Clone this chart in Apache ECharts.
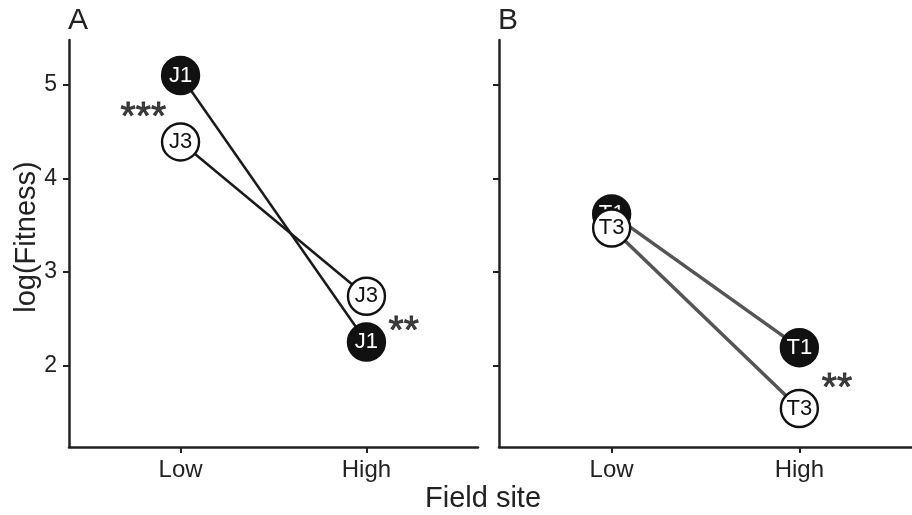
<!DOCTYPE html>
<html>
<head>
<meta charset="utf-8">
<script src="https://cdn.jsdelivr.net/npm/echarts@6/dist/echarts.min.js"></script>
<style>html,body{margin:0;padding:0;background:#fff;}#c{width:912px;height:515px;}</style>
</head>
<body>
<div id="c"></div>
<script>
// Sites: 1 = Low, 2 = High
const siteLabels = {1: 'Low', 2: 'High'};
const siteValues = [1, 2];
const yTicks = [2, 3, 4, 5];
// Panel A
const J1 = [5.1, 2.25];
const J3 = [4.39, 2.74];
// Panel B
const T1 = [3.62, 2.19];
const T3 = [3.47, 1.54];
// Significance stars [x, y, text]
const starsA = [[0.80, 4.73, '***'], [2.2, 2.44, '**']];
const starsB = [[2.2, 1.83, '**']];

const FONT = 'Liberation Sans, Arial, Helvetica, sans-serif';
const INK = '#222';

function pts(vals) { return siteValues.map((s, i) => [s, vals[i]]); }

function xAxis(idx) {
  return {
    type: 'value', gridIndex: idx, min: 0.4, max: 2.6,
    splitLine: {show: false},
    axisLine: {show: true, lineStyle: {color: INK, width: 2.5}},
    axisTick: {show: true, length: 6, lineStyle: {color: INK, width: 2}, customValues: siteValues},
    axisLabel: {show: true, customValues: siteValues, formatter: v => siteLabels[v] || '',
      fontSize: 24, color: INK, fontFamily: FONT, margin: 11}
  };
}
function yAxis(idx, labels) {
  return {
    type: 'value', gridIndex: idx, min: 1.128, max: 5.48,
    splitLine: {show: false},
    axisLine: {show: true, lineStyle: {color: INK, width: 2.5}},
    axisTick: {show: true, length: 6, lineStyle: {color: INK, width: 2}, customValues: yTicks},
    axisLabel: {show: labels, customValues: yTicks, fontSize: 23, color: INK, fontFamily: FONT, margin: 12}
  };
}
function lineSeries(idx, name, vals, filled, lineColor, lineWidth, z) {
  return {
    type: 'line', name: name, xAxisIndex: idx, yAxisIndex: idx,
    data: pts(vals), z: z,
    lineStyle: {color: lineColor, width: lineWidth},
    symbol: 'circle', symbolSize: 37,
    itemStyle: {color: filled ? '#111' : '#fff', borderColor: '#111', borderWidth: 2.4},
    label: {show: true, position: 'inside', formatter: name, fontSize: 22,
      color: filled ? '#fff' : '#111', fontFamily: FONT, textBorderWidth: 0},
    emphasis: {disabled: true}, animation: false
  };
}
function starSeries(idx, stars) {
  return {
    type: 'scatter', xAxisIndex: idx, yAxisIndex: idx,
    data: stars.map(s => ({value: [s[0], s[1]], label: {formatter: s[2]}})),
    symbolSize: 0.1, itemStyle: {color: 'transparent'},
    label: {show: true, position: 'inside', fontSize: 39, fontWeight: 'normal', color: '#111',
      fontFamily: FONT, textBorderColor: '#111', textBorderWidth: 0.9, offset: [0, 8]},
    emphasis: {disabled: true}, animation: false, z: 5
  };
}

const chart = echarts.init(document.getElementById('c'), null, {renderer: 'canvas'});
chart.setOption({
  backgroundColor: '#fff',
  animation: false,
  grid: [
    {left: 69, top: 40, width: 409, height: 407},
    {left: 499, top: 40, width: 416, height: 407}
  ],
  xAxis: [xAxis(0), xAxis(1)],
  yAxis: [yAxis(0, true), yAxis(1, false)],
  graphic: [
    {type: 'text', left: 68, top: 6, style: {text: 'A', fontSize: 30, fill: INK, fontFamily: FONT}},
    {type: 'text', left: 498, top: 6, style: {text: 'B', fontSize: 30, fill: INK, fontFamily: FONT}},
    {type: 'text', x: 27, y: 237, rotation: Math.PI / 2,
      style: {text: 'log(Fitness)', fontSize: 29, fill: INK, fontFamily: FONT, align: 'center', verticalAlign: 'middle'}},
    {type: 'text', x: 483, y: 499,
      style: {text: 'Field site', fontSize: 29, fill: INK, fontFamily: FONT, align: 'center', verticalAlign: 'middle'}}
  ],
  series: [
    lineSeries(0, 'J3', J3, false, '#1a1a1a', 2.5, 2),
    lineSeries(0, 'J1', J1, true, '#1a1a1a', 2.5, 3),
    lineSeries(1, 'T1', T1, true, '#555', 3.5, 2),
    lineSeries(1, 'T3', T3, false, '#555', 3.5, 3),
    starSeries(0, starsA),
    starSeries(1, starsB)
  ]
});
</script>
</body>
</html>
